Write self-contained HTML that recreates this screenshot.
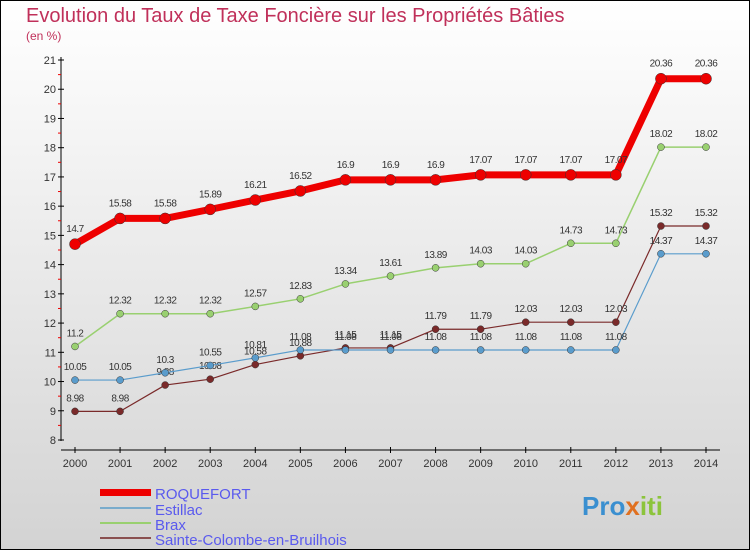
<!DOCTYPE html>
<html><head><meta charset="utf-8"><style>
body{margin:0}
#c{width:750px;height:550px;position:relative;box-sizing:border-box;border:1px solid #000;background:linear-gradient(#ffffff,#d3d3d3);overflow:hidden;font-family:"Liberation Sans",sans-serif}
</style></head><body>
<div id="c">
<svg id="s" width="750" height="550" style="position:absolute;left:-1px;top:-1px">
<text x="26" y="22" font-size="20" fill="#c0305a">Evolution du Taux de Taxe Foncière sur les Propriétés Bâties</text>
<text x="26" y="40" font-size="12" fill="#c0305a">(en %)</text>
<g id="g"></g>
<g>
<rect x="100" y="489" width="51" height="7" fill="#e00"/>
<text x="155" y="499" font-size="15" fill="#5a5aee">ROQUEFORT</text>
<rect x="100" y="507" width="51" height="2" fill="#7aaccc"/>
<text x="155" y="515" font-size="15" fill="#5a5aee">Estillac</text>
<rect x="100" y="522" width="51" height="2" fill="#99d070"/>
<text x="155" y="530" font-size="15" fill="#5a5aee">Brax</text>
<rect x="100" y="537" width="51" height="2" fill="#8a5050"/>
<text x="155" y="545" font-size="15" fill="#5a5aee">Sainte-Colombe-en-Bruilhois</text>
</g>
<text x="582" y="515" font-size="26" font-weight="bold" fill="#3a8fd0">Pro<tspan fill="#e07020">x</tspan><tspan fill="#8cc43c">iti</tspan></text>
</svg>
</div>
<script>
const years=[2000,2001,2002,2003,2004,2005,2006,2007,2008,2009,2010,2011,2012,2013,2014];
const roquefort=[14.7,15.58,15.58,15.89,16.21,16.52,16.9,16.9,16.9,17.07,17.07,17.07,17.07,20.36,20.36];
const estillac=[10.05,10.05,10.3,10.55,10.81,11.08,11.08,11.08,11.08,11.08,11.08,11.08,11.08,14.37,14.37];
const brax=[11.2,12.32,12.32,12.32,12.57,12.83,13.34,13.61,13.89,14.03,14.03,14.73,14.73,18.02,18.02];
const colombe=[8.98,8.98,9.88,10.08,10.58,10.88,11.15,11.15,11.79,11.79,12.03,12.03,12.03,15.32,15.32];
const yTicks=[8,9,10,11,12,13,14,15,16,17,18,19,20,21];
const NS="http://www.w3.org/2000/svg";
const g=document.getElementById('g');
const X=i=>75+i*(706-75)/(years.length-1);
const Y=v=>440-(v-8)*(380/13);
function mk(t,a,p){const e=document.createElementNS(NS,t);for(const k in a)e.setAttribute(k,a[k]);(p||g).appendChild(e);return e;}
let ax=mk('line',{x1:61,y1:57,x2:61,y2:441,stroke:'#000','stroke-width':1});


yTicks.forEach(v=>{mk('line',{x1:58,x2:64,y1:Y(v),y2:Y(v),stroke:'#000'});
if(v<21)mk('line',{x1:58,x2:61,y1:Y(v+0.5),y2:Y(v+0.5),stroke:'#e00'});
const t=mk('text',{x:56,y:Y(v)+4,'font-size':11,fill:'#333','text-anchor':'end'});t.textContent=v;

});
let xa=mk('line',{x1:61,y1:450,x2:720,y2:450,stroke:'#000'});


years.forEach((y,i)=>{mk('line',{x1:X(i),x2:X(i),y1:447,y2:453,stroke:'#000'});
const t=mk('text',{x:X(i),y:467,'font-size':11,fill:'#333','text-anchor':'middle'});t.textContent=y;

});
function series(d,col,w,r,name,dy){
const pts=d.map((v,i)=>X(i)+','+Y(v)).join(' ');
const l=mk('polyline',{points:pts,fill:'none',stroke:col,'stroke-width':w,'stroke-linejoin':'round'});


d.forEach((v,i)=>{const c=mk('circle',{cx:X(i),cy:Y(v),r:r,fill:col,stroke:'#333','stroke-width':0.5});


const t=mk('text',{x:X(i),y:Y(v)+dy,'font-size':10,fill:'#333','text-anchor':'middle','letter-spacing':'-0.5'});t.textContent=v;

});}
series(colombe,'#7a2a2a',1.2,3.5,'sainte-colombe',-10);
series(estillac,'#5a9ccc',1.2,3.5,'estillac',-10);
series(brax,'#99d070',1.5,3.5,'brax',-10);
series(roquefort,'#e00',7,5.5,'roquefort',-12);
</script>
</body></html>
